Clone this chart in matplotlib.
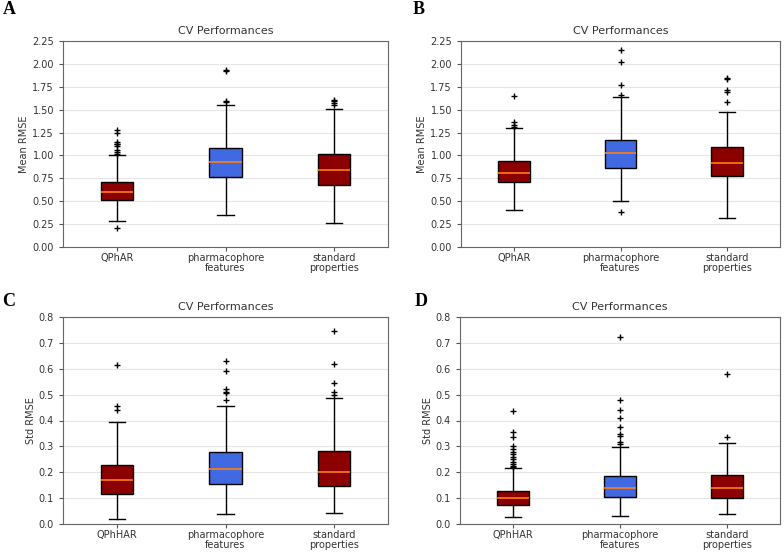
import matplotlib
matplotlib.use("Agg")
import matplotlib.pyplot as plt

categories = ["QPhAR", "pharmacophore\nfeatures", "standard\nproperties"]
categories_std = ["QPhHAR", "pharmacophore\nfeatures", "standard\nproperties"]
box_colors = ["#8b0000", "#4169e1", "#8b0000"]

# each box: (whislo, q1, med, q3, whishi, fliers)
panel_A = [
    (0.28, 0.51, 0.60, 0.705, 1.00, [0.21, 1.02, 1.04, 1.06, 1.10, 1.12, 1.13, 1.15, 1.25, 1.28]),
    (0.345, 0.765, 0.93, 1.085, 1.555, [1.58, 1.60, 1.92, 1.93]),
    (0.26, 0.675, 0.84, 1.02, 1.51, [1.55, 1.57, 1.59, 1.61]),
]
panel_B = [
    (0.405, 0.705, 0.81, 0.94, 1.295, [1.31, 1.33, 1.36, 1.645]),
    (0.50, 0.86, 1.025, 1.17, 1.64, [0.385, 1.66, 1.77, 2.02, 2.155]),
    (0.32, 0.775, 0.92, 1.095, 1.47, [1.58, 1.69, 1.71, 1.83, 1.85]),
]
panel_C = [
    (0.019, 0.117, 0.169, 0.228, 0.393, [0.44, 0.455, 0.615]),
    (0.037, 0.154, 0.214, 0.279, 0.456, [0.478, 0.505, 0.512, 0.52, 0.59, 0.63]),
    (0.044, 0.148, 0.202, 0.283, 0.486, [0.497, 0.51, 0.545, 0.62, 0.745]),
]
panel_D = [
    (0.027, 0.073, 0.100, 0.129, 0.216, [0.22, 0.225, 0.232, 0.24, 0.25, 0.26, 0.27, 0.28, 0.29, 0.30, 0.335, 0.356, 0.435]),
    (0.031, 0.103, 0.139, 0.184, 0.298, [0.31, 0.318, 0.34, 0.348, 0.375, 0.408, 0.44, 0.478, 0.722]),
    (0.037, 0.100, 0.138, 0.191, 0.312, [0.338, 0.578]),
]

panels = [
    ("A", panel_A, categories, "Mean RMSE", (0, 2.25), [0, 0.25, 0.5, 0.75, 1.0, 1.25, 1.5, 1.75, 2.0, 2.25], "{:.2f}"),
    ("B", panel_B, categories, "Mean RMSE", (0, 2.25), [0, 0.25, 0.5, 0.75, 1.0, 1.25, 1.5, 1.75, 2.0, 2.25], "{:.2f}"),
    ("C", panel_C, categories_std, "Std RMSE", (0, 0.8), [0, 0.1, 0.2, 0.3, 0.4, 0.5, 0.6, 0.7, 0.8], "{:.1f}"),
    ("D", panel_D, categories_std, "Std RMSE", (0, 0.8), [0, 0.1, 0.2, 0.3, 0.4, 0.5, 0.6, 0.7, 0.8], "{:.1f}"),
]

W, H = 784, 553
fig = plt.figure(figsize=(W / 100, H / 100), dpi=100)

# axes rectangles in pixels: left, top, right, bottom
rects = [(63, 41, 388, 247), (461, 41, 780, 247), (63, 317, 388, 524), (460, 317, 780, 524)]
letter_pos = [(9, 10), (419, 10), (9, 301), (421, 302)]

text_color = "#333333"
for (letter, data, cats, ylabel, ylim, yticks, fmt), (l, t, r, b), (lx, ly) in zip(panels, rects, letter_pos):
    ax = fig.add_axes([l / W, 1 - b / H, (r - l) / W, (b - t) / H])
    stats = []
    for (wl, q1, med, q3, wh, fl), lab in zip(data, cats):
        stats.append(dict(whislo=wl, q1=q1, med=med, q3=q3, whishi=wh, fliers=fl, label=lab))
    bp = ax.bxp(stats, widths=0.3, patch_artist=True, showfliers=True,
                flierprops=dict(marker="+", markeredgecolor="black", markersize=5, linewidth=0),
                medianprops=dict(color="#ff7f0e", linewidth=1.2),
                whiskerprops=dict(color="black", linewidth=1),
                capprops=dict(color="black", linewidth=1),
                boxprops=dict(edgecolor="black", linewidth=1))
    for patch, c in zip(bp["boxes"], box_colors):
        patch.set_facecolor(c)
    ax.set_ylim(*ylim)
    ax.set_xlim(0.5, 3.5)
    ax.set_yticks(yticks)
    ax.set_yticklabels([fmt.format(v) for v in yticks])
    for lbl in ax.get_xticklabels():
        lbl.set_linespacing(0.95)
    ax.yaxis.grid(True, color="#e6e6e6", linewidth=0.8)
    ax.set_axisbelow(True)
    ax.tick_params(labelsize=7, colors=text_color, length=3)
    ax.tick_params(axis="x", pad=1.5)
    ax.tick_params(axis="both", color="#555555")
    for s in ax.spines.values():
        s.set_color("#666666")
    ax.set_ylabel(ylabel, fontsize=7, color=text_color, labelpad=2)
    ax.set_title("CV Performances", fontsize=8, color=text_color, pad=5)
    fig.text(lx / W, 1 - ly / H, letter, fontsize=13, fontweight="bold",
             family="Liberation Serif", ha="center", va="center", color="black")

fig.savefig("out.png", dpi=100)
